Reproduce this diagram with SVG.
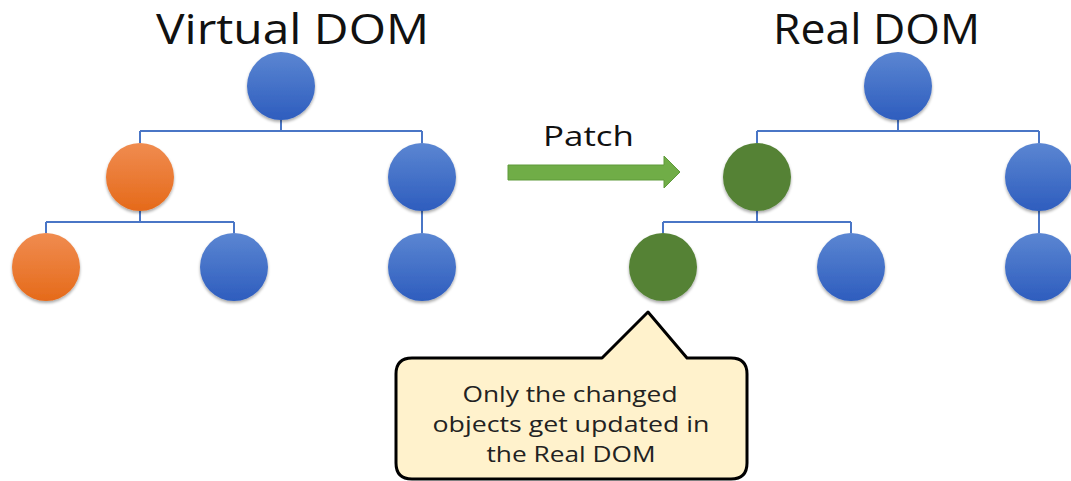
<svg xmlns="http://www.w3.org/2000/svg" width="1071" height="481" viewBox="0 0 1071 481">
<defs>
<linearGradient id="gBlue" x1="0" y1="0" x2="0" y2="1"><stop offset="0" stop-color="#5B86D2"/><stop offset="1" stop-color="#2E5DBE"/></linearGradient>
<linearGradient id="gOrange" x1="0" y1="0" x2="0" y2="1"><stop offset="0" stop-color="#F08C50"/><stop offset="1" stop-color="#E56A1A"/></linearGradient>
<filter id="sh" x="-20%" y="-20%" width="140%" height="150%"><feGaussianBlur in="SourceAlpha" stdDeviation="1.5"/><feOffset dy="2" result="b"/><feComponentTransfer><feFuncA type="linear" slope="0.35"/></feComponentTransfer><feMerge><feMergeNode/><feMergeNode in="SourceGraphic"/></feMerge></filter>
<style>
.blue{fill:url(#gBlue);filter:url(#sh)}
.orange{fill:url(#gOrange);filter:url(#sh)}
.green{fill:#548235;filter:url(#sh)}
.conn{fill:none;stroke:#4A76C6;stroke-width:2}
.title{font-family:"Open Sans","Liberation Sans",sans-serif;font-size:42px;fill:#111}
.lbl{font-family:"Open Sans","Liberation Sans",sans-serif;font-size:27px;fill:#111}
.call{font-family:"Open Sans","Liberation Sans",sans-serif;font-size:21px;fill:#222;text-anchor:middle}
</style>
</defs>
<rect width="1071" height="481" fill="#fff"/>
<text class="title" x="156" y="44" textLength="273" lengthAdjust="spacingAndGlyphs">Virtual DOM</text>
<text class="title" x="773" y="44" textLength="207" lengthAdjust="spacingAndGlyphs">Real DOM</text>
<g id="connectors">
<path class="conn" d="M281 120V131M140 131H422M140 131V143M422 131V143M140 211V222M46 222H234M46 222V233M234 222V233M422 211V233"/>
<path class="conn" d="M898 120V131M757 131H1039M757 131V143M1039 131V143M757 211V222M663 222H851M663 222V233M851 222V233M1039 211V233"/>
</g>
<g id="v-root"><circle class="blue" cx="281" cy="86" r="34"/></g>
<g id="v-left"><circle class="orange" cx="140" cy="177" r="34"/></g>
<g id="v-right"><circle class="blue" cx="422" cy="177" r="34"/></g>
<g id="v-ll"><circle class="orange" cx="46" cy="267" r="34"/></g>
<g id="v-lr"><circle class="blue" cx="234" cy="267" r="34"/></g>
<g id="v-rr"><circle class="blue" cx="422" cy="267" r="34"/></g>
<g id="r-root"><circle class="blue" cx="898" cy="86" r="34"/></g>
<g id="r-left"><circle class="green" cx="757" cy="177" r="34"/></g>
<g id="r-right"><circle class="blue" cx="1039" cy="177" r="34"/></g>
<g id="r-ll"><circle class="green" cx="663" cy="267" r="34"/></g>
<g id="r-lr"><circle class="blue" cx="851" cy="267" r="34"/></g>
<g id="r-rr"><circle class="blue" cx="1039" cy="267" r="34"/></g>
<g id="patch">
<path d="M508 165H664V156L680 172L664 188V180H508Z" fill="#70AD47" stroke="#5E9A3A" stroke-width="1"/>
<text class="lbl" x="543" y="146" textLength="91" lengthAdjust="spacingAndGlyphs">Patch</text>
</g>
<g id="callout">
<path d="M412 358H602L648 312L687 358H731Q747 358 747 374V463Q747 479 731 479H412Q396 479 396 463V374Q396 358 412 358Z" fill="#FFF2CC" stroke="#000" stroke-width="3" stroke-linejoin="round"/>
<text class="call" x="570" y="402" textLength="215" lengthAdjust="spacingAndGlyphs">Only the changed</text>
<text class="call" x="571" y="432" textLength="277" lengthAdjust="spacingAndGlyphs">objects get updated in</text>
<text class="call" x="571" y="462" textLength="169" lengthAdjust="spacingAndGlyphs">the Real DOM</text>
</g>
</svg>
